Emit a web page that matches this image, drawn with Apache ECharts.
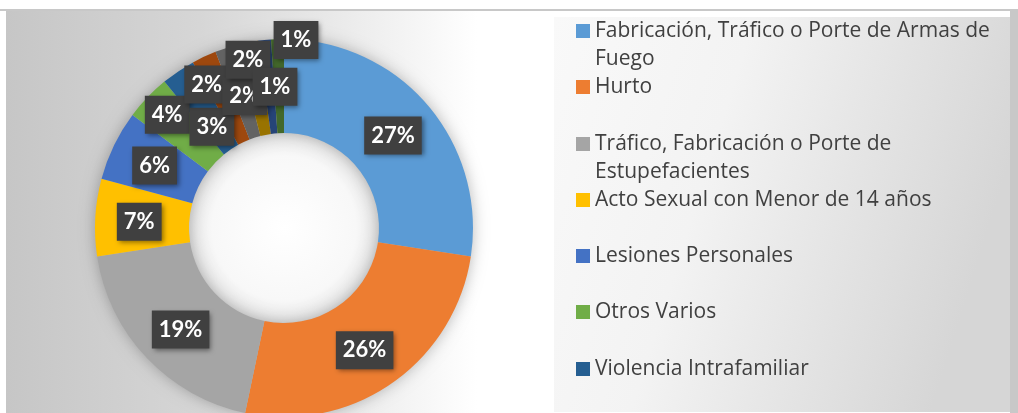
<!DOCTYPE html>
<html>
<head>
<meta charset="utf-8">
<script src="https://cdn.jsdelivr.net/npm/echarts@6/dist/echarts.min.js"></script>
<style>
  html, body { margin: 0; padding: 0; background: #fff; }
  #main { width: 1018px; height: 413px; }
</style>
</head>
<body>
<div id="main"></div>
<script>
// datos del gráfico (porcentajes)
const delitos = [
  'Fabricación, Tráfico o Porte de Armas de Fuego',
  'Hurto',
  'Tráfico, Fabricación o Porte de Estupefacientes',
  'Acto Sexual con Menor de 14 años',
  'Lesiones Personales',
  'Otros Varios',
  'Violencia Intrafamiliar',
  'Categoría 8',
  'Categoría 9',
  'Categoría 10',
  'Categoría 11',
  'Categoría 12'
]
const porcentajes = [27.4, 25.9, 19.3, 6.6, 6.0, 3.9, 2.9, 2.1, 1.9, 1.8, 1.1, 1.1]
const colores = ['#5B9BD5', '#ED7D31', '#A5A5A5', '#FFC000', '#4472C4', '#70AD47',
  '#255E91', '#9E480E', '#636363', '#997300', '#264478', '#43682B']

// la leyenda del original solo deja ver las 7 primeras
const leyenda = delitos.slice(0, 7)
const leyendaLinea1 = [
  'Fabricación, Tráfico o Porte de Armas de',
  'Hurto',
  'Tráfico, Fabricación o Porte de',
  'Acto Sexual con Menor de 14 años',
  'Lesiones Personales',
  'Otros Varios',
  'Violencia Intrafamiliar'
]
const leyendaLinea2 = ['Fuego', '', 'Estupefacientes', '', '', '', '']

// empujoncitos de las etiquetas pequeñas (como quedaron en Excel)
const ajusteEtiqueta = [[-1,2],[-2,3],[2,2],[0,2],[1,1],[-12,-13],[9,19],[-16,-12],[5,6],[-8,-26],[6,3],[17,-43]]
const lineaLeyenda = [31, 87, 144, 200, 256, 312, 369]

var chart = echarts.init(document.getElementById('main'), null, { renderer: 'canvas' })

var fuenteLeyenda = { fontFamily: 'Open Sans', fontSize: 21, color: '#404040', lineHeight: 28 }

var legends = leyenda.map(function (n, i) {
  return {
    data: [n],
    orient: 'vertical',
    left: 576,
    top: lineaLeyenda[i] - 14,
    padding: 0,
    icon: 'rect',
    itemWidth: 14,
    itemHeight: 14,
    selectedMode: false,
    formatter: function () { return leyendaLinea1[i] },
    textStyle: fuenteLeyenda
  }
})

// segunda línea de los nombres largos
var segundas = []
leyendaLinea2.forEach(function (t, i) {
  if (!t) return
  segundas.push({
    type: 'text', z: 5, x: 595, y: lineaLeyenda[i] + 28,
    style: { text: t, fill: '#404040', font: '21px "Open Sans"', verticalAlign: 'middle', align: 'left' }
  })
})

var option = {
  animation: false,
  color: colores,
  graphic: [
    { type: 'rect', z: -10, shape: { x: 0, y: 0, width: 1018, height: 413 }, style: { fill: '#ffffff' } },
    { type: 'rect', z: -9, shape: { x: 6, y: 11, width: 1012, height: 402 },
      style: { fill: { type: 'linear', x: 6, y: 0, x2: 560, y2: 0, global: true,
        colorStops: [{ offset: 0, color: '#c6c6c6' }, { offset: 0.35, color: '#d6d6d6' },
          { offset: 0.7, color: '#f2f2f2' }, { offset: 0.85, color: '#ffffff' }, { offset: 1, color: '#ffffff' }] } } },
    { type: 'rect', z: -8, shape: { x: 0, y: 9, width: 1018, height: 2 }, style: { fill: '#c8c8c8' } },
    { type: 'rect', z: -8, shape: { x: 1010, y: 11, width: 8, height: 402 }, style: { fill: '#c8c8c8' } },
    { type: 'rect', z: -7, shape: { x: 554, y: 17, width: 456, height: 395 },
      style: { fill: { type: 'linear', x: 554, y: 17, x2: 1010, y2: 160, global: true,
        colorStops: [{ offset: 0, color: '#f9f9f9' }, { offset: 0.4, color: '#f3f3f3' }, { offset: 1, color: '#d6d6d6' }] } } },
    // hueco del anillo
    { type: 'circle', z: -6, shape: { cx: 284, cy: 228, r: 96 },
      style: { fill: { type: 'radial', x: 284, y: 228, r: 96, global: true,
        colorStops: [{ offset: 0, color: '#ffffff' }, { offset: 0.75, color: '#f8f8f8' }, { offset: 1, color: '#e6e6e6' }] } } },
    // sombra del anillo
    { type: 'ring', z: -5, shape: { cx: 284, cy: 228, r: 188, r0: 96 },
      style: { fill: '#bbbbbb', shadowBlur: 16, shadowColor: 'rgba(0,0,0,0.3)' } }
  ].concat(segundas),
  legend: legends,
  series: [{
    type: 'pie',
    center: [284, 228],
    radius: [95, 189],
    startAngle: 90,
    clockwise: true,
    avoidLabelOverlap: false,
    itemStyle: { borderWidth: 0 },
    emphasis: { disabled: true },
    label: {
      show: true,
      position: 'inside',
      formatter: function (p) { return Math.round(p.percent) + '%' },
      color: '#ffffff',
      fontFamily: 'Lato',
      fontWeight: 'bold',
      fontSize: 22,
      lineHeight: 25,
      backgroundColor: '#404040',
      padding: [7, 7, 6, 7],
      shadowBlur: 5,
      shadowColor: 'rgba(0,0,0,0.45)',
      shadowOffsetX: 2,
      shadowOffsetY: 2
    },
    labelLine: { show: false },
    labelLayout: function (params) {
      var a = ajusteEtiqueta[params.dataIndex]
      return { dx: a[0], dy: a[1] }
    },
    data: delitos.map(function (n, i) {
      return { name: n, value: porcentajes[i] }
    })
  }]
}

chart.setOption(option)
</script>
</body>
</html>
